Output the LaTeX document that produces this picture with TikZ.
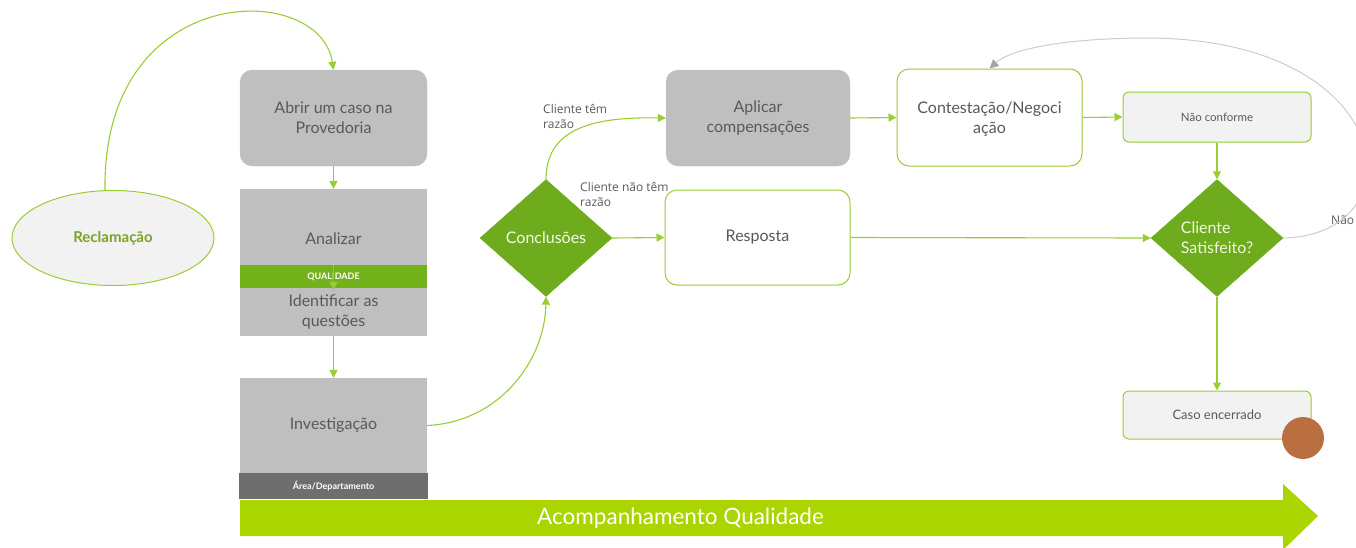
\documentclass[tikz,border=0pt]{standalone}
\usepackage{fontspec}
\setmainfont{Lato}
\newfontfamily\segoe{Open Sans}
\usetikzlibrary{arrows.meta,shapes.geometric,calc}
\definecolor{lgreen}{HTML}{9ACD32}
\definecolor{dgreen}{HTML}{6EAC1E}
\definecolor{qgreen}{HTML}{74B21C}
\definecolor{bigarrow}{HTML}{ABD500}
\definecolor{boxgray}{HTML}{BFBFBF}
\definecolor{txtgray}{HTML}{595959}
\definecolor{lightfill}{HTML}{F2F2F2}
\definecolor{depgray}{HTML}{6E6E6E}
\definecolor{brownc}{HTML}{BA6F40}
\definecolor{loopgray}{HTML}{CCCCCC}
\begin{document}
\begin{tikzpicture}[x=1pt,y=-1pt,
  conn/.style={draw=lgreen,line width=1.1pt,-{Triangle[length=8pt,width=8pt]}},
  graybox/.style={draw=boxgray!80!white,fill=boxgray,rounded corners=12pt,text=txtgray,align=center,font=\fontsize{16}{20}\selectfont},
  whitebox/.style={draw=lgreen,line width=1pt,fill=white,rounded corners=12pt,text=txtgray,align=center,font=\fontsize{16}{20}\selectfont},
  smallbox/.style={draw=lgreen,line width=1pt,fill=lightfill,rounded corners=6pt,text=txtgray,align=center},
  sqbox/.style={fill=boxgray,text=txtgray,align=center,font=\fontsize{16}{20}\selectfont},
  lbl/.style={text=txtgray,align=left,font=\segoe\fontsize{12}{15}\selectfont,anchor=north west,inner sep=0pt},
  dia/.style={diamond,fill=dgreen,draw=dgreen,inner sep=0pt,minimum width=132pt,minimum height=117pt}
]
\useasboundingbox (0,0) rectangle (1356,547);

% Big arrow
\fill[bigarrow] (240,500) -- (1283,500) -- (1283,484) -- (1318,516) -- (1283,550) -- (1283,536) -- (240,536) -- cycle;
\node[text=white,anchor=west,font=\fontsize{22.5}{26}\selectfont,inner sep=0pt] (acomp) at (537,518) {Acompanhamento Qualidade};

% Reclamação
\node[ellipse,draw=lgreen,line width=1pt,fill=lightfill,minimum width=202pt,minimum height=95pt,text=lgreen!80!black,font=\bfseries\fontsize{15}{18}\selectfont] (recl) at (113,238) {Reclamação};

% Left column
\node[graybox,minimum width=187pt,minimum height=96pt] (abrir) at (333.5,118) {Abrir um caso na\\Provedoria};
\node[sqbox,minimum width=187pt,minimum height=76pt] (analizar) at (333.5,227) {};
\node[text=txtgray,font=\fontsize{16}{20}\selectfont,inner sep=0pt] (analizartxt) at (333.5,239) {Analizar};
\node[fill=qgreen,text=white,minimum width=187pt,minimum height=23pt,inner sep=0pt,font=\bfseries\fontsize{9}{10}\selectfont] (qual) at (333.5,276.5) {QUALIDADE};
\node[sqbox,minimum width=187pt,minimum height=48pt,inner sep=0pt] (ident) at (333.5,312) {Identificar as\\questões};
\node[sqbox,minimum width=187pt,minimum height=95pt] (invest) at (333.5,425.5) {Investigação};
\node[fill=depgray,text=white,minimum width=189pt,minimum height=26pt,inner sep=0pt,font=\bfseries\fontsize{9}{10}\selectfont] (dep) at (333.5,486) {Área/Departamento};

% Middle
\node[dia,text=white!90!lgreen,font=\fontsize{16}{20}\selectfont] (concl) at (546,238) {Conclusões};
\node[graybox,minimum width=184pt,minimum height=96pt] (aplicar) at (758,118) {Aplicar\\compensações};
\node[whitebox,minimum width=185pt,minimum height=95pt] (resp) at (757.5,237.5) {Resposta};
\node[whitebox,minimum width=185pt,minimum height=97pt,text depth=0pt] (contest) at (989.5,117.5) {Contestação/Negoci\\ação};
\node[smallbox,minimum width=188pt,minimum height=50pt,font=\fontsize{11.5}{14}\selectfont] (naoconf) at (1217,117) {Não conforme};
\node[dia,text=white!85!lgreen,align=left,font=\fontsize{16}{20}\selectfont] (satisf) at (1217,238) {Cliente\\Satisfeito?};
\node[smallbox,minimum width=188pt,minimum height=48pt,font=\fontsize{13}{16}\selectfont] (caso) at (1217,415) {Caso encerrado};
\node[circle,fill=brownc,minimum size=42pt,inner sep=0pt] (endc) at (1303,438) {};

% Labels
\node[lbl] (l1) at (543,104) {Cliente têm\\razão};
\node[lbl] (l2) at (580,182) {Cliente não têm\\razão};
\node[lbl,anchor=west] (l3) at (1331,220) {Não};

% Connectors
\draw[conn] (recl.north) ++(-8,0) coordinate (rs) (rs) .. controls (102,-20) and (320,-20) .. (abrir.north);
\draw[conn] (abrir.south) -- (analizar.north);
\draw[conn,shorten >=-2pt] (analizar.south) -- (ident.north);
\draw[conn] (ident.south) -- (invest.north);
\draw[conn] (invest.east) .. controls (500,422) and (545,360) .. (concl.south);
\draw[conn] (concl.north) .. controls (546,125) and (600,117) .. (aplicar.west);
\draw[conn] (concl.east) -- (resp.west);
\draw[conn] (aplicar.east) -- (contest.west);
\draw[conn] (contest.east) -- (naoconf.west);
\draw[conn] (naoconf.south) -- (satisf.north);
\draw[conn] (resp.east) -- (satisf.west);
\draw[conn] (satisf.south) -- (caso.north);
\coordinate (looptop) at (1150,38);
\draw[draw=loopgray,line width=1pt,-{Triangle[length=9pt,width=9pt,color=gray!70]}] (satisf.east) .. controls (1420,235) and (1400,40) .. (looptop) .. controls (1060,38) and (1010,50) .. (contest.north);
\end{tikzpicture}
\end{document}
